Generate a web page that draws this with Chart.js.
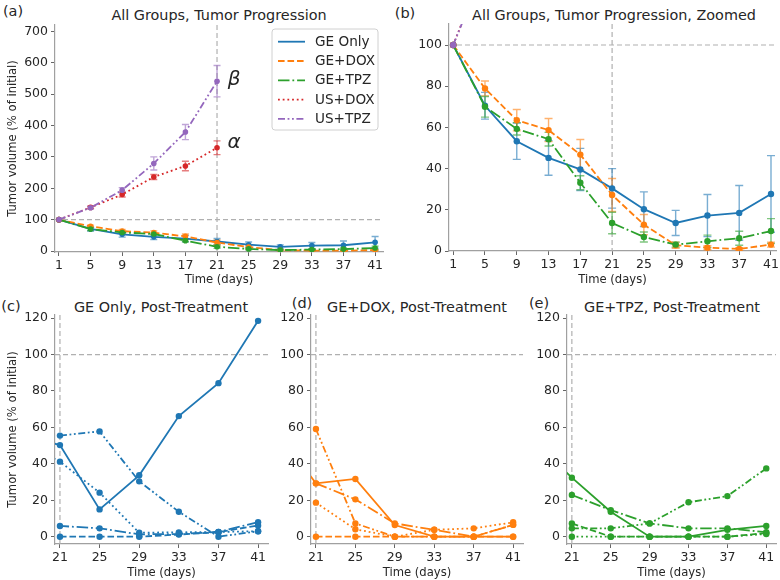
<!DOCTYPE html>
<html lang="en">
<head>
<meta charset="UTF-8" />
<title>Tumor Progression</title>
<script src="https://cdn.jsdelivr.net/npm/chart.js"></script>
<style>
  html, body { margin: 0; padding: 0; background: #fff; }
  body { width: 780px; height: 580px; position: relative; overflow: hidden; font-family: "DejaVu Sans", sans-serif; color: #262626; }
  canvas { position: absolute; }
  .txt { position: absolute; white-space: nowrap; transform: translate(-50%, -50%); line-height: 1; }
  .title { font-size: 14.4px; }
  .tag { font-size: 14.5px; }
</style>
</head>
<body>
<div class="txt tag" style="left:13px;top:11px">(a)</div>
<div class="txt title" style="left:219px;top:15px">All Groups, Tumor Progression</div>
<div class="txt tag" style="left:405px;top:13px">(b)</div>
<div class="txt title" style="left:614px;top:15px">All Groups, Tumor Progression, Zoomed</div>
<div class="txt tag" style="left:11px;top:306px">(c)</div>
<div class="txt title" style="left:161px;top:307px">GE Only, Post-Treatment</div>
<div class="txt tag" style="left:302px;top:303px">(d)</div>
<div class="txt title" style="left:417px;top:307px">GE+DOX, Post-Treatment</div>
<div class="txt tag" style="left:539px;top:303px">(e)</div>
<div class="txt title" style="left:672px;top:307px">GE+TPZ, Post-Treatment</div>

<script>
    // days of measurement
    const days = [1, 5, 9, 13, 17, 21, 25, 29, 33, 37, 41];
    const daysTreat = [1, 5, 9, 13, 17, 21];
    const daysPost = [17, 21, 25, 29, 33, 37, 41];

    // tick labels
    const xTicksAll = [1, 5, 9, 13, 17, 21, 25, 29, 33, 37, 41];
    const yTicksAll = [0, 100, 200, 300, 400, 500, 600, 700];
    const yTicksZoom = [0, 20, 40, 60, 80, 100];
    const xTicksPost = [21, 25, 29, 33, 37, 41];
    const yTicksPost = [0, 20, 40, 60, 80, 100, 120];

    // group means (% of initial) and error bars
    const geOnly    = [100, 70.5, 53.3, 45.2, 39.6, 30.4, 20.3, 13.6, 17.2, 18.5, 27.7];
    const geOnlyErr = [0, 6.5, 8.8, 8.4, 10.2, 9.6, 8.4, 6.1, 10.2, 13.3, 18.6];
    const geDox     = [100, 78.9, 63.5, 58.7, 46.8, 27.2, 12.8, 2.8, 1.6, 1.0, 3.1];
    const geDoxErr  = [0, 3.6, 5.2, 5.6, 7.3, 8.0, 4.9, 1.5, 1.0, 0.6, 1.2];
    const geTpz     = [100, 70.0, 59.3, 54.3, 33.1, 13.6, 6.8, 3.1, 4.7, 6.2, 9.7];
    const geTpzErr  = [0, 5.0, 3.0, 3.3, 3.4, 5.2, 2.4, 1.2, 3.0, 3.4, 6.0];
    const usDox     = [100, 139, 180, 236, 271, 329];
    const usDoxErr  = [0, 4, 8, 8, 15, 22];
    const usTpz     = [100, 138, 194, 279, 379, 541];
    const usTpzErr  = [0, 4, 8, 21, 24, 50];

    // individual animals after treatment
    const geOnlyInd = [
        [56, 50.3, 15.0, 33.7, 66.2, 84.3, 118.5],
        [null, 0, 0, 0, 1.2, 2.5, 6.2],
        [10.7, 5.9, 4.6, 1.3, 1.5, 2.6, 8.0],
        [52.4, 41.2, 24.2, 2.2, 2.4, 2.6, 3.0],
        [null, 55.5, 57.8, 30.4, 13.7, 0, 3.0]
    ];
    const geDoxInd = [
        [58, 29.3, 31.7, 6.4, 0, 0, 0],
        [null, 0, 0, 0, 0, 0, 0],
        [null, 29.3, 20.5, 7.3, 3.8, 0, 6.5],
        [null, 18.7, 4.1, 0, 3.8, 4.6, 7.9],
        [null, 59.1, 7.3, 0, 0, 0, 6.5]
    ];
    const geTpzInd = [
        [53, 32.4, 13.7, 0, 0, 3.8, 5.9],
        [null, 7.3, 0, 0, 0, 0, 2.0],
        [null, 22.9, 14.6, 7.3, 4.6, 4.6, 2.5],
        [null, 0, 0, 0, 0, 0, 1.5],
        [null, 4.6, 4.6, 7.3, 18.9, 22.3, 37.5]
    ];

    const BLUE = '#1f77b4', ORANGE = '#ff7f0e', GREEN = '#2ca02c', RED = '#d62728', PURPLE = '#9467bd';
    const LW = 1.8;
    const DASH = {
        solid: [],
        dashed: [6.6, 2.9],
        dashdot: [11.5, 2.9, 1.8, 2.9],
        dotted: [1.8, 2.9],
        dashdotdot: [7, 2.6, 1.8, 2.6, 1.8, 2.6]
    };
    const indDash = [DASH.solid, DASH.dashed, DASH.dashdot, DASH.dotted, DASH.dashdotdot];

    Chart.defaults.font.family = '"DejaVu Sans", sans-serif';
    Chart.defaults.color = '#262626';

    const pts = (xs, ys) => xs.map((x, i) => ({ x: x, y: ys[i] }));

    function line(label, xs, ys, color, dash, err, order, radius) {
        return {
            label: label, data: pts(xs, ys), err: err,
            borderColor: color, backgroundColor: color,
            pointBackgroundColor: color, pointBorderWidth: 0,
            pointRadius: radius, borderWidth: LW, borderDash: dash,
            tension: 0, spanGaps: false, order: order
        };
    }

    function mainSets(r) {
        return [
            line('GE Only', days, geOnly, BLUE, DASH.solid, geOnlyErr, 5, r),
            line('GE+DOX', days, geDox, ORANGE, DASH.dashed, geDoxErr, 4, r),
            line('GE+TPZ', days, geTpz, GREEN, DASH.dashdot, geTpzErr, 3, r),
            line('US+DOX', daysTreat, usDox, RED, DASH.dotted, usDoxErr, 2, r),
            line('US+TPZ', daysTreat, usTpz, PURPLE, DASH.dashdotdot, usTpzErr, 1, r)
        ];
    }

    function indSets(rows, color) {
        return rows.map((ys, i) => line('#' + (i + 1), daysPost, ys, color, indDash[i], null, 5 - i, 3.2));
    }

    // vertical error bars with caps, drawn under the lines
    const errorBars = {
        id: 'errorBars',
        beforeDatasetsDraw(chart, args, opts) {
            const { ctx, chartArea: a, scales: { x, y } } = chart;
            const cap = opts.cap || 3;
            ctx.save();
            ctx.beginPath(); ctx.rect(a.left, a.top, a.width, a.height); ctx.clip();
            chart.data.datasets.forEach(ds => {
                if (!ds.err) return;
                ctx.strokeStyle = ds.borderColor;
                ctx.globalAlpha = 0.6;
                ctx.lineWidth = 1.4;
                ctx.setLineDash([]);
                ds.data.forEach((p, j) => {
                    const e = ds.err[j];
                    if (!e) return;
                    const px = x.getPixelForValue(p.x);
                    const y1 = y.getPixelForValue(p.y - e), y2 = y.getPixelForValue(p.y + e);
                    ctx.beginPath();
                    ctx.moveTo(px, y1); ctx.lineTo(px, y2);
                    ctx.moveTo(px - cap, y1); ctx.lineTo(px + cap, y1);
                    ctx.moveTo(px - cap, y2); ctx.lineTo(px + cap, y2);
                    ctx.stroke();
                });
            });
            ctx.restore();
        }
    };

    // grey dashed guides at day 21 and 100 %
    const refLines = {
        id: 'refLines',
        beforeDatasetsDraw(chart, args, opts) {
            const { ctx, chartArea: a, scales: { x, y } } = chart;
            ctx.save();
            ctx.strokeStyle = '#b0b0b0';
            ctx.lineWidth = 1.2;
            ctx.setLineDash([5, 3]);
            (opts.x || []).forEach(v => {
                const px = x.getPixelForValue(v);
                ctx.beginPath(); ctx.moveTo(px, a.top); ctx.lineTo(px, a.bottom); ctx.stroke();
            });
            (opts.y || []).forEach(v => {
                const py = y.getPixelForValue(v);
                ctx.beginPath(); ctx.moveTo(a.left, py); ctx.lineTo(a.right, py); ctx.stroke();
            });
            ctx.restore();
        }
    };

    // legend box in the upper right of panel (a)
    const boxLegend = {
        id: 'boxLegend',
        afterDatasetsDraw(chart, args, opts) {
            if (!opts.show) return;
            const { ctx, chartArea: a } = chart;
            const w = 106, h = 101;
            const left = a.right - 5 - w, top = a.top + 4;
            ctx.save();
            ctx.beginPath();
            ctx.roundRect(left, top, w, h, 3);
            ctx.fillStyle = 'rgba(255,255,255,0.8)';
            ctx.fill();
            ctx.strokeStyle = '#d0d0d0';
            ctx.lineWidth = 1;
            ctx.stroke();
            ctx.font = '13.6px "DejaVu Sans"';
            ctx.textBaseline = 'middle';
            chart.data.datasets.forEach((ds, i) => {
                const yy = top + 12.7 + i * 19.3;
                ctx.strokeStyle = ds.borderColor;
                ctx.lineWidth = LW;
                ctx.setLineDash(ds.borderDash);
                ctx.beginPath(); ctx.moveTo(left + 6, yy); ctx.lineTo(left + 33, yy); ctx.stroke();
                ctx.fillStyle = '#262626';
                ctx.fillText(ds.label, left + 43, yy + 0.5);
            });
            ctx.restore();
        }
    };

    const greek = {
        id: 'greek',
        afterDatasetsDraw(chart, args, opts) {
            if (!opts.items) return;
            const { ctx, scales: { x, y } } = chart;
            ctx.save();
            ctx.font = 'italic 20px "DejaVu Sans"';
            ctx.fillStyle = '#262626';
            ctx.textAlign = 'center';
            ctx.textBaseline = 'middle';
            opts.items.forEach(it => {
                ctx.fillText(it.text, x.getPixelForValue(it.x) + it.dx, y.getPixelForValue(it.y) + it.dy);
            });
            ctx.restore();
        }
    };

    function makeChart(geo, datasets, xr, yr, xTicks, yTicks, extra) {
        const c = document.createElement('canvas');
        const left = geo.l - geo.yw, top = geo.t - geo.pt;
        const w = geo.r - left + geo.pr, h = geo.b + geo.xh - top;
        c.width = w; c.height = h;
        c.style.left = left + 'px'; c.style.top = top + 'px';
        c.style.width = w + 'px'; c.style.height = h + 'px';
        document.body.appendChild(c);

        const tickFont = { size: 12.5 };
        const border = { display: true, color: '#a0a0a0', width: 1.2 };
        const grid = { display: true, drawOnChartArea: false, drawTicks: true, tickLength: 4, color: '#666' };

        return new Chart(c, {
            type: 'line',
            data: { datasets: datasets },
            options: {
                responsive: false,
                animation: false,
                devicePixelRatio: 1,
                layout: { padding: { top: geo.pt, right: geo.pr, left: 0, bottom: 0 } },
                plugins: {
                    legend: { display: false },
                    tooltip: { enabled: false },
                    errorBars: { cap: extra.cap },
                    refLines: { x: [21], y: [100] },
                    boxLegend: { show: !!extra.legend },
                    greek: { items: extra.greek }
                },
                scales: {
                    x: {
                        type: 'linear', min: xr[0], max: xr[1],
                        border: border, grid: grid,
                        ticks: { font: tickFont, padding: 2, autoSkip: false, maxRotation: 0 },
                        afterBuildTicks: s => { s.ticks = xTicks.map(v => ({ value: v })); },
                        afterFit: s => { s.height = geo.xh; s.paddingLeft = 0; s.paddingRight = 0; },
                        title: { display: true, text: 'Time (days)', font: { size: 11.6 }, padding: { top: 0, bottom: geo.tb } }
                    },
                    y: {
                        type: 'linear', min: yr[0], max: yr[1],
                        border: border, grid: grid,
                        ticks: { font: tickFont, padding: 3, autoSkip: false },
                        afterBuildTicks: s => { s.ticks = yTicks.map(v => ({ value: v })); },
                        afterFit: s => { s.width = geo.yw; s.paddingTop = 0; s.paddingBottom = 0; },
                        title: { display: !!extra.yTitle, text: 'Tumor volume (% of initial)', font: { size: 11.6 }, padding: { top: 6, bottom: 0 } }
                    }
                }
            },
            plugins: [refLines, errorBars, boxLegend, greek]
        });
    }

    // (a) all groups
    makeChart({ l: 55, r: 383, t: 25, b: 252, yw: 55, pt: 6, pr: 8, xh: 38, tb: 2.8 },
        mainSets(2.8), [0.5, 42], [-3, 720], xTicksAll, yTicksAll,
        { yTitle: true, legend: true, cap: 3.5,
          greek: [{ text: 'β', x: 21, y: 541, dx: 17, dy: -1 }, { text: 'α', x: 21, y: 329, dx: 17, dy: -5 }] });

    // (b) zoomed
    makeChart({ l: 449, r: 780, t: 24, b: 251, yw: 49, pt: 5, pr: 0, xh: 38, tb: 1.6 },
        mainSets(3.2), [0.47, 41.63], [0, 110.2], xTicksAll, yTicksZoom, { cap: 4 });

    // (c)-(e) post-treatment individuals
    makeChart({ l: 55, r: 268, t: 315, b: 544, yw: 55, pt: 6, pr: 6, xh: 36, tb: 0.5 },
        indSets(geOnlyInd, BLUE), [20.5, 42], [-4, 121.7], xTicksPost, yTicksPost, { yTitle: true });
    makeChart({ l: 311, r: 523, t: 315, b: 544, yw: 45, pt: 6, pr: 6, xh: 36, tb: 0.5 },
        indSets(geDoxInd, ORANGE), [20.5, 42], [-4, 121.7], xTicksPost, yTicksPost, {});
    makeChart({ l: 567, r: 779, t: 315, b: 544, yw: 45, pt: 6, pr: 1, xh: 36, tb: 0.5 },
        indSets(geTpzInd, GREEN), [20.5, 42], [-4, 121.7], xTicksPost, yTicksPost, {});
</script>
</body>
</html>
